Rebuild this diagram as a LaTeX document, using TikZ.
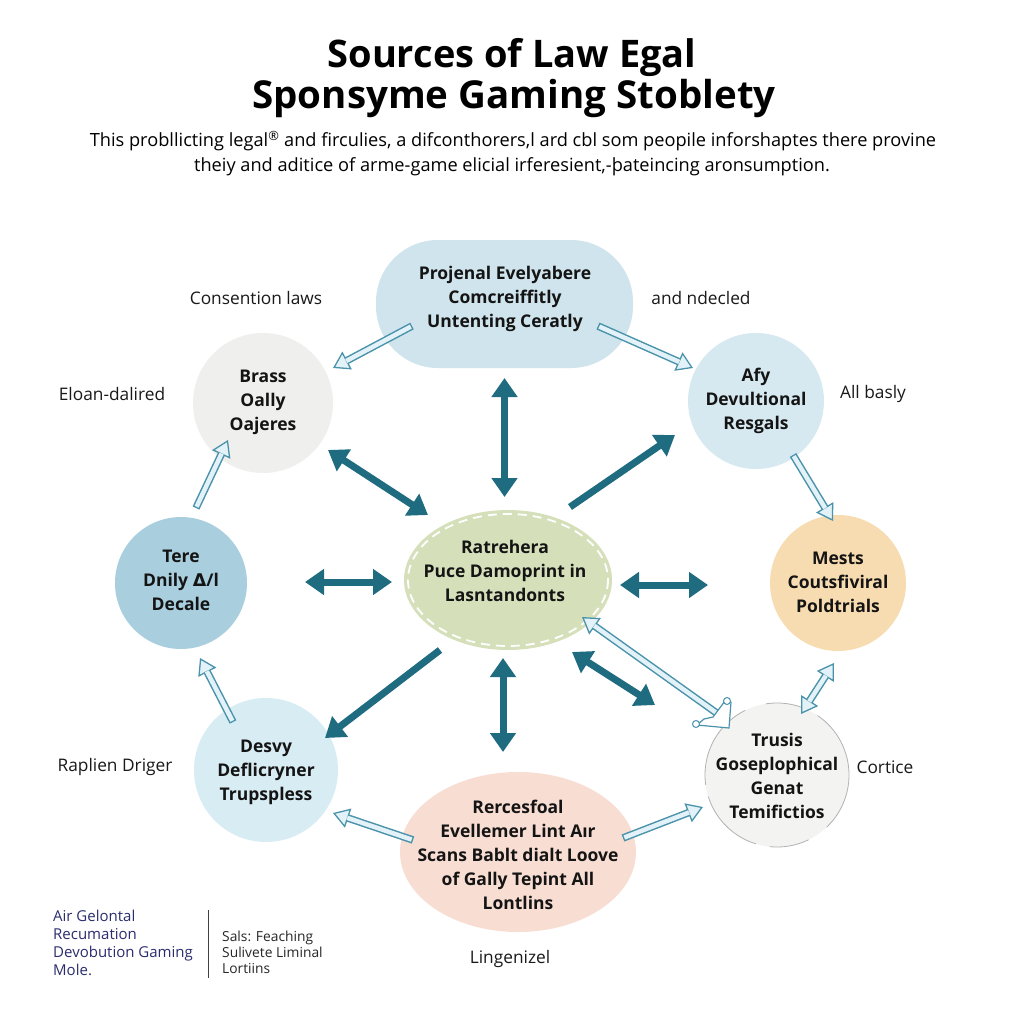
\documentclass[tikz,border=0pt]{standalone}
\usepackage{fontspec}
\setmainfont{Open Sans}
\newfontfamily\djv{DejaVu Sans}
\usetikzlibrary{arrows.meta,shapes.geometric}
\definecolor{ctop}{HTML}{CFE4EC}
\definecolor{cbrass}{HTML}{EFEFED}
\definecolor{cafy}{HTML}{D7E9F0}
\definecolor{ctere}{HTML}{A9CFDF}
\definecolor{chub}{HTML}{D5E0BB}
\definecolor{cmests}{HTML}{F8DCB1}
\definecolor{cdesvy}{HTML}{D8ECF4}
\definecolor{ctrusis}{HTML}{F3F3F1}
\definecolor{cbottom}{HTML}{F8DDD2}
\definecolor{teal}{HTML}{1F6B80}
\definecolor{hout}{HTML}{4A93AA}
\definecolor{hin}{HTML}{E3F2F8}
\definecolor{navy}{HTML}{2B2D6E}
\newcommand\hollowarrow[2]{%
  \draw[hol] (#1) -- (#2);
  \draw[holin, shorten >=15pt] (#1) -- (#2);}
\newcommand\hollowdarrow[2]{%
  \draw[hold] (#1) -- (#2);
  \draw[holin, shorten >=15pt, shorten <=15pt] (#1) -- (#2);}
\begin{document}
\begin{tikzpicture}[x=1pt,y=-1pt,
  blob/.style={inner sep=0pt, outer sep=0pt},
  circ/.style={blob, circle, minimum size=#1},
  ntext/.style={font=\bfseries\fontsize{17.5}{24}\selectfont, align=center, text=black!92},
  lab/.style={font=\fontsize{17.3}{20}\selectfont, text=black!90},
  tarr/.style={draw=teal, line width=7pt, -{Triangle[length=19pt,width=25pt,fill=teal]}},
  tdbl/.style={draw=teal, line width=7pt, {Triangle[length=19pt,width=25pt,fill=teal]}-{Triangle[length=19pt,width=25pt,fill=teal]}},
  hol/.style={draw=hout, line width=7.5pt, -{Triangle[length=16pt,width=20pt,fill=hin,line width=1.3pt]}},
  hold/.style={draw=hout, line width=7.5pt, {Triangle[length=16pt,width=20pt,fill=hin,line width=1.3pt]}-{Triangle[length=16pt,width=20pt,fill=hin,line width=1.3pt]}},
  holin/.style={draw=hin, line width=4.5pt, shorten <=1.4pt},
]
\useasboundingbox[fill=white] (0,0) rectangle (1024,1024);

% title and subtitle
\node[anchor=base, font=\bfseries\fontsize{38}{42}\selectfont] (title1) at (512,68) {Sources of Law Egal};
\node[anchor=base, font=\bfseries\fontsize{38.5}{42}\selectfont] (title2) at (514,109) {Sponsyme Gaming Stoblety};
\node[anchor=base, font=\fontsize{18.2}{20}\selectfont] (sub1) at (513,147) {This probllicting legal\textsuperscript{®} and firculies, a difconthorers,l ard cbl som peopile inforshaptes there provine};
\node[anchor=base, font=\fontsize{18.2}{20}\selectfont] (sub2) at (512,172) {theiy and aditice of arme-game elicial irferesient,-þateincing aronsumption.};

% shapes
\node[blob, rectangle, rounded corners=62pt, minimum width=257pt, minimum height=128pt, fill=ctop] (top) at (504.5,304) {};
\node[circ=140pt, fill=cbrass] (brass) at (263,403) {};
\node[circ=136pt, fill=cafy] (afy) at (756,401) {};
\node[circ=132pt, fill=ctere] (tere) at (181,583) {};
\node[blob, ellipse, minimum width=208pt, minimum height=140pt, fill=chub] (hub) at (508,580) {};
\draw[white, line width=1.8pt, dash pattern=on 9pt off 6pt] (hub.center) ellipse (100 and 66);
\node[circ=136pt, fill=cmests] (mests) at (838,583) {};
\node[circ=144pt, fill=cdesvy] (desvy) at (266,770) {};
\node[circ=144pt, fill=ctrusis, draw=gray!60, line width=0.8pt, dash pattern=on 70pt off 14pt on 40pt off 22pt on 90pt off 12pt] (trusis) at (777,775) {};
\node[blob, ellipse, minimum width=236pt, minimum height=160pt, fill=cbottom] (bottom) at (518,852) {};

% node texts
\node[ntext] (topt) at (505,299) {Projenal Evelyabere\\Comcreiffitly\\Untenting Ceratly};
\node[ntext] (brasst) at (263,402) {Brass\\Oally\\Oajeres};
\node[ntext] (afyt) at (756,401) {Afy\\Devultional\\Resgals};
\node[ntext] (teret) at (181,580) {Tere\\Dnily {\djv\bfseries Δ}/l\\Decale};
\node[ntext] (hubt) at (505,571) {Ratrehera\\Puce Damoprint in\\Lasntandonts};
\node[ntext] (mestst) at (838,582) {Mests\\Coutsfiviral\\Poldtrials};
\node[ntext] (desvyt) at (266,772) {Desvy\\Deflicryner\\Trupspless};
\node[ntext] (trusist) at (777,776) {Trusis\\Goseplophical\\Genat\\Temifictios};
\node[ntext] (bottomt) at (518,855) {Rercesfoal\\Evellemer Lint Aır\\Scans Bablt dialt Loove\\of Gally Tepint All\\Lontlins};

% side labels
\node[lab] (l1) at (256,298) {Consention laws};
\node[lab] (l2) at (701,298) {and ndecled};
\node[lab] (l3) at (112,394) {Eloan-dalired};
\node[lab] (l4) at (873,394) {All basly};
\node[lab] (l5) at (115,767) {Raplien Driger};
\node[lab] (l6) at (885,767) {Cortice};
\node[lab] (l7) at (510,959) {Lingenizel};

% teal arrows
\draw[tdbl, shorten <=10pt, shorten >=13pt] (top.south) -- (top.south |- hub.north);
\draw[tdbl] ([shift={(65,47)}]brass.center) -- ([shift={(-80,-65)}]hub.center);
\draw[tarr] ([shift={(62,-73)}]hub.center) -- ([shift={(-81,34)}]afy.center);
\draw[tdbl] ([shift={(124,-1)}]tere.center) -- ([shift={(-116,2)}]hub.center);
\draw[tdbl] ([shift={(112,5)}]hub.center) -- ([shift={(-130,2)}]mests.center);
\draw[tarr] ([shift={(-68,70)}]hub.center) -- ([shift={(59,-32)}]desvy.center);
\draw[tdbl] ([shift={(-5,78)}]hub.center) -- ([shift={(-15,-100)}]bottom.center);
\draw[tdbl] ([shift={(64,72)}]hub.center) -- ([shift={(-122,-70)}]trusis.center);

% hollow arrows
\hollowarrow{[shift={(-92.5,22)}]top.center}{[shift={(70,-35)}]brass.center}
\hollowarrow{[shift={(93.5,22)}]top.center}{[shift={(-63,-33)}]afy.center}
\hollowarrow{[shift={(37,54)}]afy.center}{[shift={(-5,-62)}]mests.center}
\hollowdarrow{[shift={(24,-61)}]trusis.center}{[shift={(-4,80)}]mests.center}
\hollowarrow{[shift={(15,-75)}]tere.center}{[shift={(-35,37)}]brass.center}
\hollowarrow{[shift={(-33,-48)}]desvy.center}{[shift={(19,75)}]tere.center}
\hollowarrow{[shift={(-105,-12)}]bottom.center}{[shift={(67,43)}]desvy.center}
\hollowarrow{[shift={(105,-14)}]bottom.center}{[shift={(-74,32)}]trusis.center}
\hollowarrow{[shift={(-59,-61)}]trusis.center}{[shift={(74,37)}]hub.center}
% tail flag of the long arrow
\draw[hout, fill=white, line width=1.2pt, line join=round]
  ([shift={(-64,-58)}]trusis.center) -- ([shift={(-52,-74)}]trusis.center)
  -- ([shift={(-46,-73)}]trusis.center) -- ([shift={(-48,-47)}]trusis.center)
  -- ([shift={(-80,-50)}]trusis.center) -- ([shift={(-73,-56)}]trusis.center) -- cycle;
\draw[hout, fill=white, line width=1pt] ([shift={(-50,-74)}]trusis.center) circle (3.5);
\draw[hout, fill=white, line width=1pt] ([shift={(-81,-51)}]trusis.center) circle (3.5);

% bottom-left legend
\node[anchor=north west, align=left, inner sep=0pt, text=navy, font=\fontsize{15}{18}\selectfont] (leg1) at (53,910) {Air Gelontal\\Recumation\\Devobution Gaming\\Mole.};
\draw[black!75, line width=1pt] (208,910) -- (208,978);
\node[anchor=west, align=left, inner sep=0pt, text=black!85, font=\fontsize{13.8}{16}\selectfont] (leg2) at (222,952) {Sals: Feaching\\Sulivete Liminal\\Lortiins};
\end{tikzpicture}
\end{document}
